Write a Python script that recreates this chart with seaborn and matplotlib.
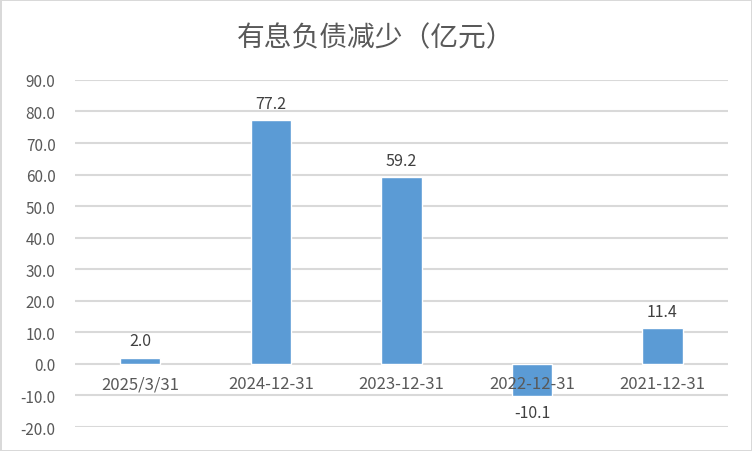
import pandas as pd
import seaborn as sns
import matplotlib.pyplot as plt

# 数据
categories = ["2025/3/31", "2024-12-31", "2023-12-31", "2022-12-31", "2021-12-31"]
values = [2.0, 77.2, 59.2, -10.1, 11.4]
y_ticks = [-20, -10, 0, 10, 20, 30, 40, 50, 60, 70, 80, 90]

sns.set_theme(style="white")
plt.rcParams['font.family'] = ['Noto Sans CJK SC', 'DejaVu Sans']

grey_text = "#595959"
grid_col = "#d9d9d9"
bar_col = "#5b9bd5"

tabela = pd.DataFrame({"data": categories, "valor": values})

fig = plt.figure(figsize=(7.52, 4.52), dpi=100, edgecolor=grid_col, linewidth=2)
ax = fig.add_axes([0.0997, 0.053, 0.868, 0.768])

sns.barplot(data=tabela, x="data", y="valor", color=bar_col, width=0.31,
            saturation=1, ax=ax, zorder=3)

ax.set_ylim(-20, 90)
ax.set_yticks(y_ticks)
ax.set_yticklabels([f"{v:.1f}" for v in y_ticks], color=grey_text, fontsize=11)
ax.yaxis.grid(True, color=grid_col, linewidth=1.5, zorder=0)
ax.tick_params(axis="y", length=0, pad=14)
ax.set_xticks([])
ax.set_xlabel("")
ax.set_ylabel("")
for s in ax.spines.values():
    s.set_visible(False)

# rótulos de categoria junto ao eixo zero
for i, cat in enumerate(categories):
    ax.annotate(cat, (i, 0), xytext=(0, -8), textcoords="offset points",
                ha="center", va="top", fontsize=12, color=grey_text, zorder=4)

# rótulos dos valores
for i, v in enumerate(values):
    off = 6 if v >= 0 else -6
    ax.annotate(f"{v:.1f}", (i, v), xytext=(0, off), textcoords="offset points",
                ha="center", va="bottom" if v >= 0 else "top",
                fontsize=11.5, color="#404040", zorder=4)

fig.text(0.5, 0.915, "有息负债减少（亿元）", ha="center", va="center",
         fontsize=20, color=grey_text, fontweight="light")

fig.savefig("out.png", dpi=100, edgecolor=fig.get_edgecolor())
